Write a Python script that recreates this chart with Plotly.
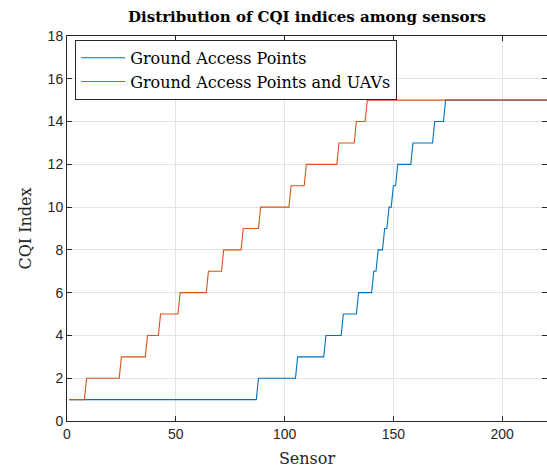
import plotly.graph_objects as go

# ---- data (first sensor index at each CQI level) ----
gap_levels = [1, 2, 3, 4, 5, 6, 7, 8, 9, 10, 11, 12, 13, 14, 15]
gap_start = [1, 88, 106, 119, 127, 134, 141, 143, 146, 148, 150, 152, 159, 169, 174]

uav_levels = [1, 2, 3, 4, 5, 6, 7, 8, 9, 10, 11, 12, 13, 14, 15]
uav_start = [1, 9, 25, 37, 43, 52, 65, 72, 81, 89, 103, 110, 125, 133, 138]

n_sensors = 230

x_ticks = [0, 50, 100, 150, 200]
y_ticks = [0, 2, 4, 6, 8, 10, 12, 14, 16, 18]


def step_vertices(starts, levels, last):
    xs, ys = [], []
    for i, (s, lv) in enumerate(zip(starts, levels)):
        e = starts[i + 1] - 1 if i + 1 < len(starts) else last
        xs += [s, e]
        ys += [lv, lv]
    return xs, ys


gx, gy = step_vertices(gap_start, gap_levels, n_sensors)
ux, uy = step_vertices(uav_start, uav_levels, n_sensors)

SERIF = "DejaVu Serif"
SANS = "Liberation Sans, Arial"
AX = "#262626"

fig = go.Figure()
fig.add_trace(go.Scatter(x=gx, y=gy, mode="lines", name="Ground Access Points",
                         line=dict(color="#0072BD", width=1.1), legendgroup="a"))
fig.add_trace(go.Scatter(x=ux, y=uy, mode="lines", name="Ground Access Points and UAVs",
                         line=dict(color="#D95319", width=1.1), legendgroup="b"))

W, H = 547, 468
L, R, T, B = 67, 0, 36, 47

fig.update_layout(
    width=W, height=H,
    margin=dict(l=L, r=R, t=T, b=B),
    paper_bgcolor="white", plot_bgcolor="white",
    title=dict(text="<b>Distribution of CQI indices among sensors</b>",
               font=dict(family=SERIF, size=15, color="black"),
               x=0.5, xanchor="center", xref="paper",
               y=1 - 17 / H, yanchor="middle", yref="container"),
    legend=dict(x=0.017, y=0.99, xanchor="left", yanchor="top",
                bgcolor="white", bordercolor=AX, borderwidth=1,
                font=dict(family=SERIF, size=16, color="black"),
                itemwidth=44,
                traceorder="grouped", tracegroupgap=0),
    showlegend=True,
)

fig.update_xaxes(range=[0, 220.6], tickvals=x_ticks, ticks="inside", ticklen=5,
                 tickcolor=AX, showline=True, linecolor=AX, linewidth=1, mirror="ticks",
                 showgrid=True, gridcolor="#e3e3e3", gridwidth=1, zeroline=False,
                 tickfont=dict(family=SANS, size=14, color=AX),
                 title=dict(text="Sensor", font=dict(family=SERIF, size=16, color=AX), standoff=12))
fig.update_yaxes(range=[0, 18], tickvals=y_ticks, ticks="inside", ticklen=5,
                 tickcolor=AX, showline=True, linecolor=AX, linewidth=1, mirror="ticks",
                 showgrid=True, gridcolor="#e3e3e3", gridwidth=1, zeroline=False,
                 tickfont=dict(family=SANS, size=14, color=AX),
                 title=dict(text="CQI Index", font=dict(family=SERIF, size=16, color=AX), standoff=12))

fig.write_html("out.html")
